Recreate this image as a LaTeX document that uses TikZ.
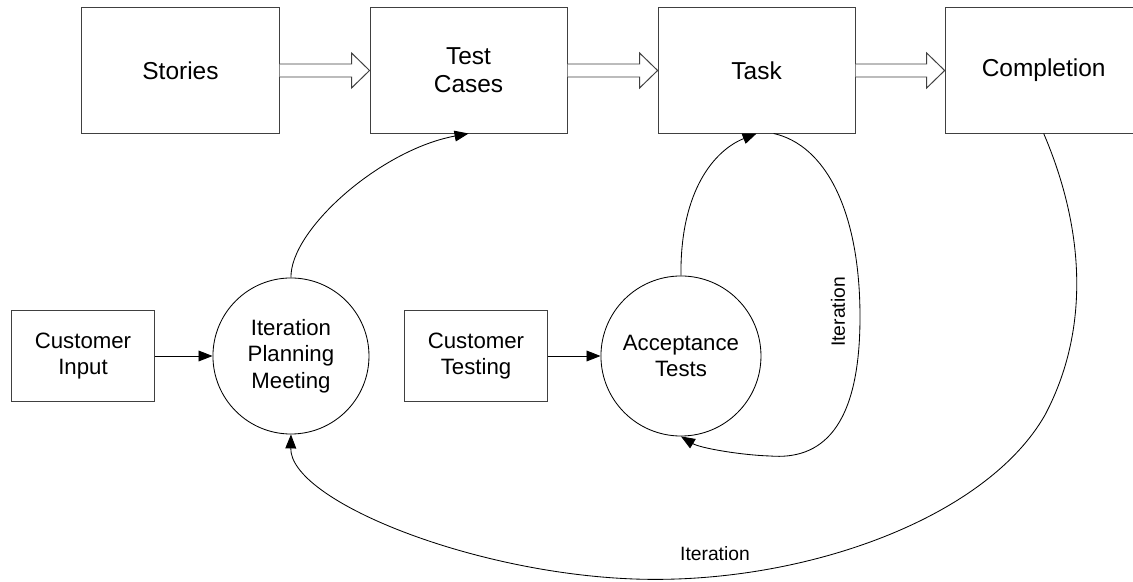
\documentclass[tikz,border=0pt]{standalone}
\usepackage{fontspec}
\setmainfont{Liberation Sans}
\usetikzlibrary{arrows.meta, positioning, calc}

\newcommand\topfont{\fontsize{17.4}{19.9}\selectfont}
\newcommand\lowfont{\fontsize{15.8}{19}\selectfont}
\newcommand\lblfont{\fontsize{13.7}{16}\selectfont}

% hollow block arrow from one box to the next
\newcommand\fatarrow[2]{%
  \draw[fat] ($(#1.east)+(0,-6.5)$) -- ($(#2.west)+(-18,-6.5)$) -- ++(0,-11)
    -- (#2.west) -- ++(-18,17.5) -- ++(0,-11) -- ($(#1.east)+(0,6.5)$);}

\tikzset{
  blk/.style    = {rectangle, draw=black!75, line width=0.7pt,
                   minimum width=4.925cm, minimum height=3.125cm,
                   align=center, font=\topfont},
  subblk/.style = {rectangle, draw=black!75, line width=0.7pt,
                   minimum width=3.55cm, minimum height=2.25cm,
                   align=center, font=\lowfont},
  proc/.style   = {circle, draw=black, line width=0.6pt, minimum size=#1,
                   inner sep=0pt, align=center, font=\lowfont},
  arr/.style    = {-{Triangle[length=0.35cm, width=0.27cm]}, line width=0.6pt},
  fat/.style    = {draw=black!75, line width=0.7pt, fill=white},
  lbl/.style    = {font=\lblfont},
}

\begin{document}
\begin{tikzpicture}[x=0.025cm, y=-0.025cm]
\useasboundingbox (0,0) rectangle (1133,582);

% ---- Top row: flow of work ----------------------------------------------
\node[blk] (stories) at (180.5,70.5) {Stories};
\node[blk, right=2.25cm of stories] (cases) {Test\\Cases};
\node[blk, right=2.25cm of cases] (task) {Task};
\node[blk, right=2.225cm of task] (done) {Completion};

\fatarrow{stories}{cases}
\fatarrow{cases}{task}
\fatarrow{task}{done}

% ---- Bottom row: customer side --------------------------------------------
\node[subblk] (custin) at (83,356) {Customer\\Input};
\node[proc=3.9cm, right=1.45cm of custin] (plan) {Iteration\\Planning\\Meeting};
\node[subblk] (custtest) at (476,356) {Customer\\Testing};
\node[proc=4cm, right=1.325cm of custtest] (accept) {Acceptance\\Tests};

\draw[arr] (custin) -- (plan);
\draw[arr] (custtest) -- (accept);

% ---- Curved connectors ------------------------------------------------------
\draw[arr] (plan.north) .. controls (290,230) and (380,150) .. (cases.south);
\draw[arr] (accept.north) .. controls (680,190) and (715,150) .. (task.south);
\draw[arr] ([xshift=0.425cm]task.south) .. controls (825,145) and (860,210) .. (860,317)
  .. controls (860,430) and (820,460) .. (770,456)
  .. controls (740,455) and (700,448) .. (accept.south);
\draw[arr] (done.south) .. controls (1085,230) and (1090,330) .. (1045,415)
  .. controls (985,520) and (800,585) .. (634,579)
  .. controls (470,573) and (290,500) .. (plan.south);

% ---- Labels -----------------------------------------------------------------
\node[lbl, rotate=90] (iterloop) at (838,312) {Iteration};
\node[lbl] (iterback) at (715,554) {Iteration};

\end{tikzpicture}
\end{document}
